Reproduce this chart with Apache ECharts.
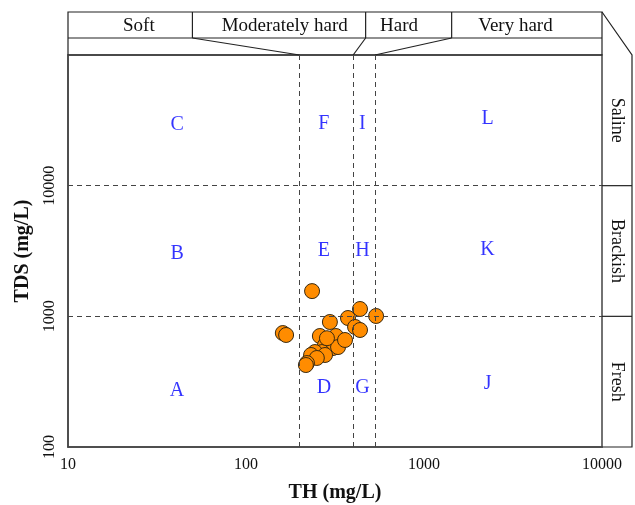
<!DOCTYPE html>
<html><head><meta charset="utf-8">
<script src="https://cdn.jsdelivr.net/npm/echarts@6/dist/echarts.min.js"></script>
<style>html,body{margin:0;padding:0;background:#fff}#c{width:635px;height:505px}</style>
</head><body><div id="c"></div>
<script>
// ---- data ----
const TH  = [161, 168, 235, 296, 260, 320, 374, 437, 538, 410, 437, 278, 308, 329, 360, 267, 244, 232, 278, 250, 220, 217, 285];
const TDS = [745, 720, 1560, 905, 707, 707, 971, 1138, 1006, 829, 786, 603, 572, 582, 659, 533, 533, 506, 506, 480, 439, 424, 680];
const xTicks = [10, 100, 1000, 10000];
const yTicks = [100, 1000, 10000];
const hardnessLimits = [200, 400, 530];
const salinityLimits = [1000, 10000];
const regionLabels = ['A', 'B', 'C', 'D', 'E', 'F', 'G', 'H', 'I', 'J', 'K', 'L'];
const regionX = [41, 41, 41, 274, 274, 274, 451, 451, 451, 2275, 2275, 2275];
const regionY = [268, 3000, 29100, 283, 3150, 30000, 283, 3150, 30000, 303, 3220, 32400];
const hardnessClasses = ['Soft', 'Moderately hard', 'Hard', 'Very hard'];
const hardnessLabelX = [25, 165, 724, 3266];
const hardnessBandEdges = [10, 50, 470, 1430, 10000];
const salinityClasses = ['Saline', 'Brackish', 'Fresh'];
const salinityBandEdges = [100000, 10000, 1000, 100];

const FONT = 'Liberation Serif';
const chart = echarts.init(document.getElementById('c'), null, {renderer: 'canvas'});

const points = TH.map((x, i) => [x, TDS[i]]);
const regions = regionLabels.map((n, i) => ({name: n, value: [regionX[i], regionY[i]]}));
const markData = hardnessLimits.map(v => ({xAxis: v})).concat(salinityLimits.map(v => ({yAxis: v})));

chart.setOption({
  animation: false,
  backgroundColor: '#fff',
  grid: {left: 68, right: 33, top: 55, bottom: 58, show: true, borderColor: '#444', borderWidth: 1.5,
    backgroundColor: 'transparent', containLabel: false, outerBoundsMode: 'none'},
  xAxis: {
    type: 'log', logBase: 10, min: xTicks[0], max: xTicks[xTicks.length - 1],
    name: 'TH (mg/L)', nameLocation: 'middle', nameGap: 36,
    nameTextStyle: {fontFamily: FONT, fontWeight: 'bold', fontSize: 20, color: '#111'},
    axisLine: {lineStyle: {color: '#444', width: 1.5}},
    axisTick: {show: false}, splitLine: {show: false},
    axisLabel: {fontFamily: FONT, fontSize: 16, color: '#111', margin: 10,
      formatter: v => String(Math.round(v))}
  },
  yAxis: {
    type: 'log', logBase: 10, min: 100, max: 100000,
    name: 'TDS (mg/L)', nameLocation: 'middle', nameGap: 35,
    nameTextStyle: {fontFamily: FONT, fontWeight: 'bold', fontSize: 20, color: '#111'},
    axisLine: {lineStyle: {color: '#444', width: 1.5}},
    axisTick: {show: false}, splitLine: {show: false},
    axisLabel: {fontFamily: FONT, fontSize: 16, color: '#111', rotate: 90, margin: 10,
      formatter: v => (yTicks.indexOf(Math.round(v)) >= 0 ? String(Math.round(v)) : '')}
  },
  series: [
    {
      type: 'scatter', data: points, symbol: 'circle', symbolSize: 15, z: 3,
      itemStyle: {color: '#ff8c00', borderColor: '#3a2a10', borderWidth: 1, opacity: 1}
    },
    {
      type: 'scatter', data: regions, symbolSize: 0, z: 4, silent: true,
      label: {show: true, position: 'inside', formatter: p => p.name, fontFamily: FONT, fontSize: 20, color: '#0000ff'}
    },
    {
      type: 'line', data: [], z: 5,
      markLine: {
        silent: true, symbol: 'none', label: {show: false}, animation: false,
        lineStyle: {type: [5, 4], color: '#444', width: 1},
        data: markData
      }
    }
  ]
});

function px(x, y) { return chart.convertToPixel({gridIndex: 0}, [x, y]); }
const p0 = px(10, 100), p1 = px(10000, 100000);
const gx0 = p0[0], gy1 = p0[1], gx1 = p1[0], gy0 = p1[1];
const bandTop = gy0 - 43, bandMid = gy0 - 17;
const stripW = 30;
const LS = {stroke: '#222', lineWidth: 1.2, fill: null};
const g = [];
g.push({type: 'rect', shape: {x: gx0, y: bandTop, width: gx1 - gx0, height: gy0 - bandTop}, style: LS, silent: true});
g.push({type: 'line', shape: {x1: gx0, y1: bandMid, x2: gx1, y2: bandMid}, style: LS, silent: true});
const edgePx = hardnessBandEdges.map(v => px(v, 100)[0]);
for (let i = 1; i < edgePx.length - 1; i++) {
  g.push({type: 'line', shape: {x1: edgePx[i], y1: bandTop, x2: edgePx[i], y2: bandMid}, style: LS, silent: true});
  const lx = px(hardnessLimits[i - 1], 100)[0];
  g.push({type: 'line', shape: {x1: edgePx[i], y1: bandMid, x2: lx, y2: gy0}, style: LS, silent: true});
}
hardnessClasses.forEach((t, i) => {
  g.push({type: 'text', x: px(hardnessLabelX[i], 100)[0], y: (bandTop + bandMid) / 2 + 1, silent: true,
    style: {text: t, font: '19px "' + FONT + '"', fill: '#111', textAlign: 'center', textVerticalAlign: 'middle', align: 'center', verticalAlign: 'middle'}});
});
g.push({type: 'polyline', shape: {points: [[gx1, bandTop], [gx1 + stripW, gy0], [gx1 + stripW, gy1], [gx1, gy1]]}, style: LS, silent: true});
const sPx = salinityBandEdges.map(v => px(10, v)[1]);
for (let i = 1; i < sPx.length - 1; i++) {
  g.push({type: 'line', shape: {x1: gx1, y1: sPx[i], x2: gx1 + stripW, y2: sPx[i]}, style: LS, silent: true});
}
salinityClasses.forEach((t, i) => {
  g.push({type: 'text', x: gx1 + stripW / 2, y: (sPx[i] + sPx[i + 1]) / 2, rotation: -Math.PI / 2, silent: true,
    style: {text: t, font: '18px "' + FONT + '"', fill: '#111', textAlign: 'center', textVerticalAlign: 'middle', align: 'center', verticalAlign: 'middle'}});
});
chart.setOption({graphic: {elements: g}});
</script></body></html>
